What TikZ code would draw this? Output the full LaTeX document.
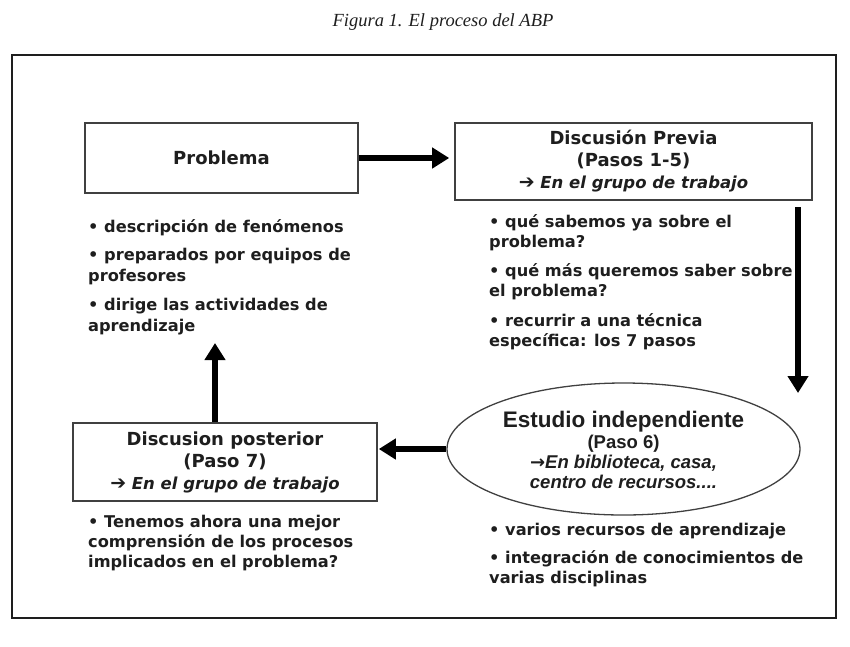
\documentclass[tikz,border=0pt]{standalone}
\usepackage{fontspec}
\usetikzlibrary{arrows.meta,shapes.geometric}
\newfontfamily\vfont{DejaVu Sans}
\newfontfamily\afont{Liberation Sans}
\newfontfamily\tfont{Liberation Serif}
\newcommand\myitfont{\vfont\bfseries\itshape\fontsize{16.5}{22}\selectfont}
\newcommand\boxarrow{{\vfont\bfseries\upshape\fontsize{19}{22}\selectfont ➔}}
\definecolor{ink}{HTML}{1E1E1E}
\definecolor{edge}{HTML}{404040}
\tikzset{
  box/.style={draw=edge,line width=1.6pt,rectangle,inner sep=0pt,text=ink,align=center,font=\vfont\bfseries\fontsize{18}{22}\selectfont},
  bl/.style={anchor=base west,inner sep=0pt,text=ink,font=\vfont\bfseries\fontsize{16.2}{20}\selectfont},
  el/.style={anchor=base,inner sep=0pt,text=ink,font=\afont\bfseries\fontsize{18.5}{20}\selectfont},
  bigarrow/.style={line width=6pt,draw=black,-{Triangle[length=17pt,width=20pt]}},
}
\begin{document}
\begin{tikzpicture}[x=1pt,y=-1pt]
\useasboundingbox (0,0) rectangle (850,646);
\node[font=\tfont\itshape\fontsize{18.5}{20}\selectfont,text=ink] (title) at (443,22) {Figura 1. El proceso del ABP};
\draw[line width=1.3pt,draw=ink] (12,55) rectangle (836,618);

\node[box,minimum width=273pt,minimum height=70pt] (prob) at (221.5,158) {Problema};
\node[box,minimum width=357pt,minimum height=77pt] (disc) at (633.5,161.3)
  {Discusión Previa\\(Pasos 1-5)\\{\myitfont \boxarrow\ En el grupo de trabajo}};
\node[box,minimum width=304pt,minimum height=78pt] (post) at (225,462)
  {Discusion posterior\\(Paso 7)\\{\myitfont \boxarrow\ En el grupo de trabajo}};
\node[draw=edge,line width=1.3pt,ellipse,minimum width=353pt,minimum height=132pt,inner sep=0pt] (est) at (623.5,449) {};

\node[el,font=\afont\bfseries\fontsize{22.5}{24}\selectfont] (e0) at (623.5,427) {Estudio independiente};
\node[el] (e1) at (623.5,448) {(Paso 6)};
\node[el] (e2) at (623.5,468) {{\vfont\upshape\fontsize{18}{20}\selectfont →}\itshape En biblioteca, casa,};
\node[el] (e3) at (623.5,488) {\itshape centro de recursos....};

\node[bl] (b1) at (88,232) {• descripción de fenómenos};
\node[bl] (b2) at (88,260) {• preparados por equipos de};
\node[bl] (b3) at (88,281) {profesores};
\node[bl] (b4) at (88,310) {• dirige las actividades de};
\node[bl] (b5) at (88,331) {aprendizaje};

\node[bl] (c1) at (489,227) {• qué sabemos ya sobre el};
\node[bl] (c2) at (489,247) {problema?};
\node[bl] (c3) at (489,276) {• qué más queremos saber sobre};
\node[bl] (c4) at (489,296) {el problema?};
\node[bl] (c5) at (489,326) {• recurrir a una técnica};
\node[bl] (c6) at (489,346) {específica: los 7 pasos};

\node[bl] (d1) at (88,527) {• Tenemos ahora una mejor};
\node[bl] (d2) at (88,547) {comprensión de los procesos};
\node[bl] (d3) at (88,567) {implicados en el problema?};

\node[bl] (f1) at (489,535) {• varios recursos de aprendizaje};
\node[bl] (f2) at (489,563) {• integración de conocimientos de};
\node[bl] (f3) at (489,583) {varias disciplinas};

\coordinate (dtop) at (798,207);
\coordinate (dbot) at (798,393);
\coordinate (upend) at (215,343);

\draw[bigarrow] (prob.east) -- ([xshift=-5pt]prob.east -| disc.west);
\draw[bigarrow] (dtop) -- (dbot);
\draw[bigarrow] (est.west) -- ([xshift=1pt]est.west -| post.east);
\draw[bigarrow] (post.north -| upend) -- (upend);
\end{tikzpicture}
\end{document}
